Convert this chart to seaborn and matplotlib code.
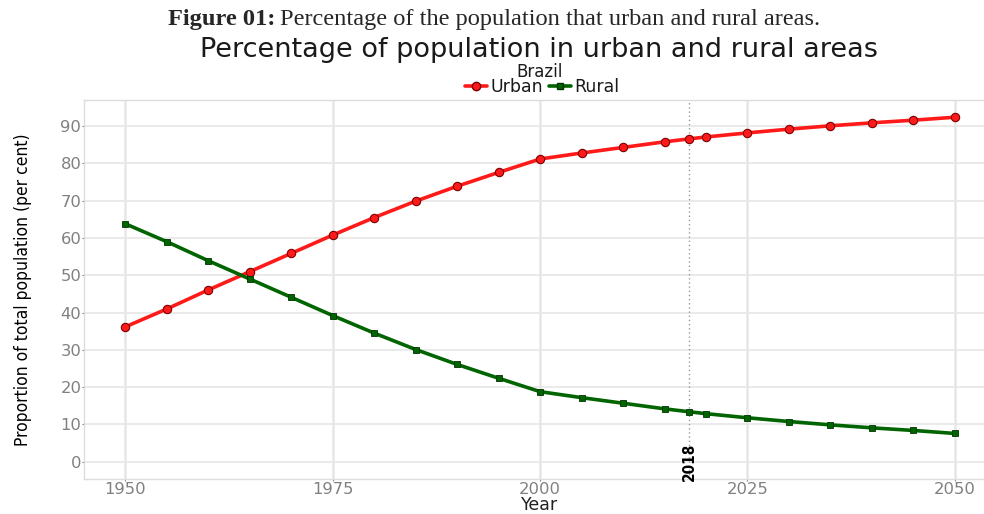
import pandas as pd
import matplotlib.pyplot as plt
import seaborn as sns
from matplotlib.lines import Line2D

# data (Brazil)
years = [1950, 1955, 1960, 1965, 1970, 1975, 1980, 1985, 1990, 1995, 2000,
         2005, 2010, 2015, 2018, 2020, 2025, 2030, 2035, 2040, 2045, 2050]
urban = [36.2, 41.0, 46.1, 51.0, 55.9, 60.8, 65.5, 69.9, 73.9, 77.6, 81.2,
         82.8, 84.3, 85.8, 86.6, 87.1, 88.2, 89.2, 90.1, 90.9, 91.6, 92.4]
rural = [63.8, 59.0, 53.9, 49.0, 44.1, 39.2, 34.5, 30.1, 26.1, 22.4, 18.8,
         17.2, 15.7, 14.2, 13.4, 12.9, 11.8, 10.8, 9.9, 9.1, 8.4, 7.6]
x_ticks = [1950, 1975, 2000, 2025, 2050]
y_ticks = [0, 10, 20, 30, 40, 50, 60, 70, 80, 90]
mark_year = 2018

df = pd.DataFrame({'Year': years * 2,
                   'value': urban + rural,
                   'Area': ['Urban'] * len(years) + ['Rural'] * len(years)})

sns.set_theme(style='white')
plt.rcParams['font.family'] = ['DejaVu Sans']

colors = {'Urban': '#ff1a1a', 'Rural': '#006400'}
grey = '#808080'
grid_c = '#e6e6e6'
narrow = ['Liberation Sans Narrow', 'DejaVu Sans']

fig = plt.figure(figsize=(9.84, 5.14), dpi=100)
ax = fig.add_axes([0.0854, 1 - 479 / 514, 0.927, 379 / 514])

for xt in x_ticks:
    ax.axvline(xt, color=grid_c, lw=1.8, zorder=0)
for yt in y_ticks:
    ax.axhline(yt, color=grid_c, lw=1.2, zorder=0)

ax.axvline(mark_year, color='#999999', lw=1.0, ls=(0, (1, 2)), zorder=1)

sns.lineplot(data=df[df.Area == 'Urban'], x='Year', y='value', ax=ax,
             color=colors['Urban'], lw=2.6, marker='o', markersize=6,
             markeredgecolor='#7a0000', markeredgewidth=0.8, zorder=3)
sns.lineplot(data=df[df.Area == 'Rural'], x='Year', y='value', ax=ax,
             color=colors['Rural'], lw=2.6, marker='s', markersize=3.8,
             markeredgecolor='#003300', markeredgewidth=0.6, zorder=3)

ax.text(mark_year, 0, str(mark_year), rotation=90, ha='center', va='center',
        fontsize=11, fontweight='bold', color='black', family=narrow,
        fontstretch='condensed')

ax.set_xlim(1945, 2055)
ax.set_ylim(-4.62, 97.02)
ax.set_xticks(x_ticks)
ax.set_yticks(y_ticks)
ax.tick_params(axis='both', colors=grey, labelsize=11.8, length=1.5,
               width=0.8, bottom=True, left=True, pad=0.5)
for s in ax.spines.values():
    s.set_visible(True)
    s.set_color('#dddddd')
    s.set_linewidth(1.0)

ax.set_xlabel('')
ax.set_ylabel('Proportion of total population (per cent)', fontsize=12.5,
              color='black', labelpad=20, family=narrow,
              fontstretch='condensed')
fig.text(0.548, 0, 'Year', fontsize=12.5, color='#222222',
         ha='center', va='bottom')

# figure caption: bold label followed by plain text
serif = ['Liberation Serif', 'DejaVu Serif']
t1 = fig.text(168 / 984, 0.962, 'Figure 01:', fontsize=17.6,
              fontweight='bold', family=serif, ha='left', va='center')
fig.canvas.draw()
bb = t1.get_window_extent().transformed(fig.transFigure.inverted())
fig.text(bb.x1 + 5 / 984, 0.962,
         'Percentage of the population that urban and rural areas.',
         fontsize=17.6, family=serif, ha='left', va='center')

fig.text(0.548, 1 - 57 / 514, 'Percentage of population in urban and rural areas',
         fontsize=19.5, color='#1a1a1a', ha='center', va='baseline')
fig.text(0.548, 1 - 77 / 514, 'Brazil', fontsize=12, color='#1a1a1a',
         ha='center', va='baseline')

handles = [Line2D([], [], color=colors['Urban'], lw=2.6, marker='o',
                  markersize=6, markeredgecolor='#7a0000'),
           Line2D([], [], color=colors['Rural'], lw=2.6, marker='s',
                  markersize=3.8, markeredgecolor='#003300')]
fig.legend(handles, ['Urban', 'Rural'], loc='center', ncol=2,
           bbox_to_anchor=(0.551, 1 - 87 / 514), frameon=False, fontsize=12.5,
           handlelength=1.3, handletextpad=0.2, columnspacing=0.3,
           labelcolor='#1a1a1a', borderpad=0)

fig.savefig('out.png', dpi=100)
